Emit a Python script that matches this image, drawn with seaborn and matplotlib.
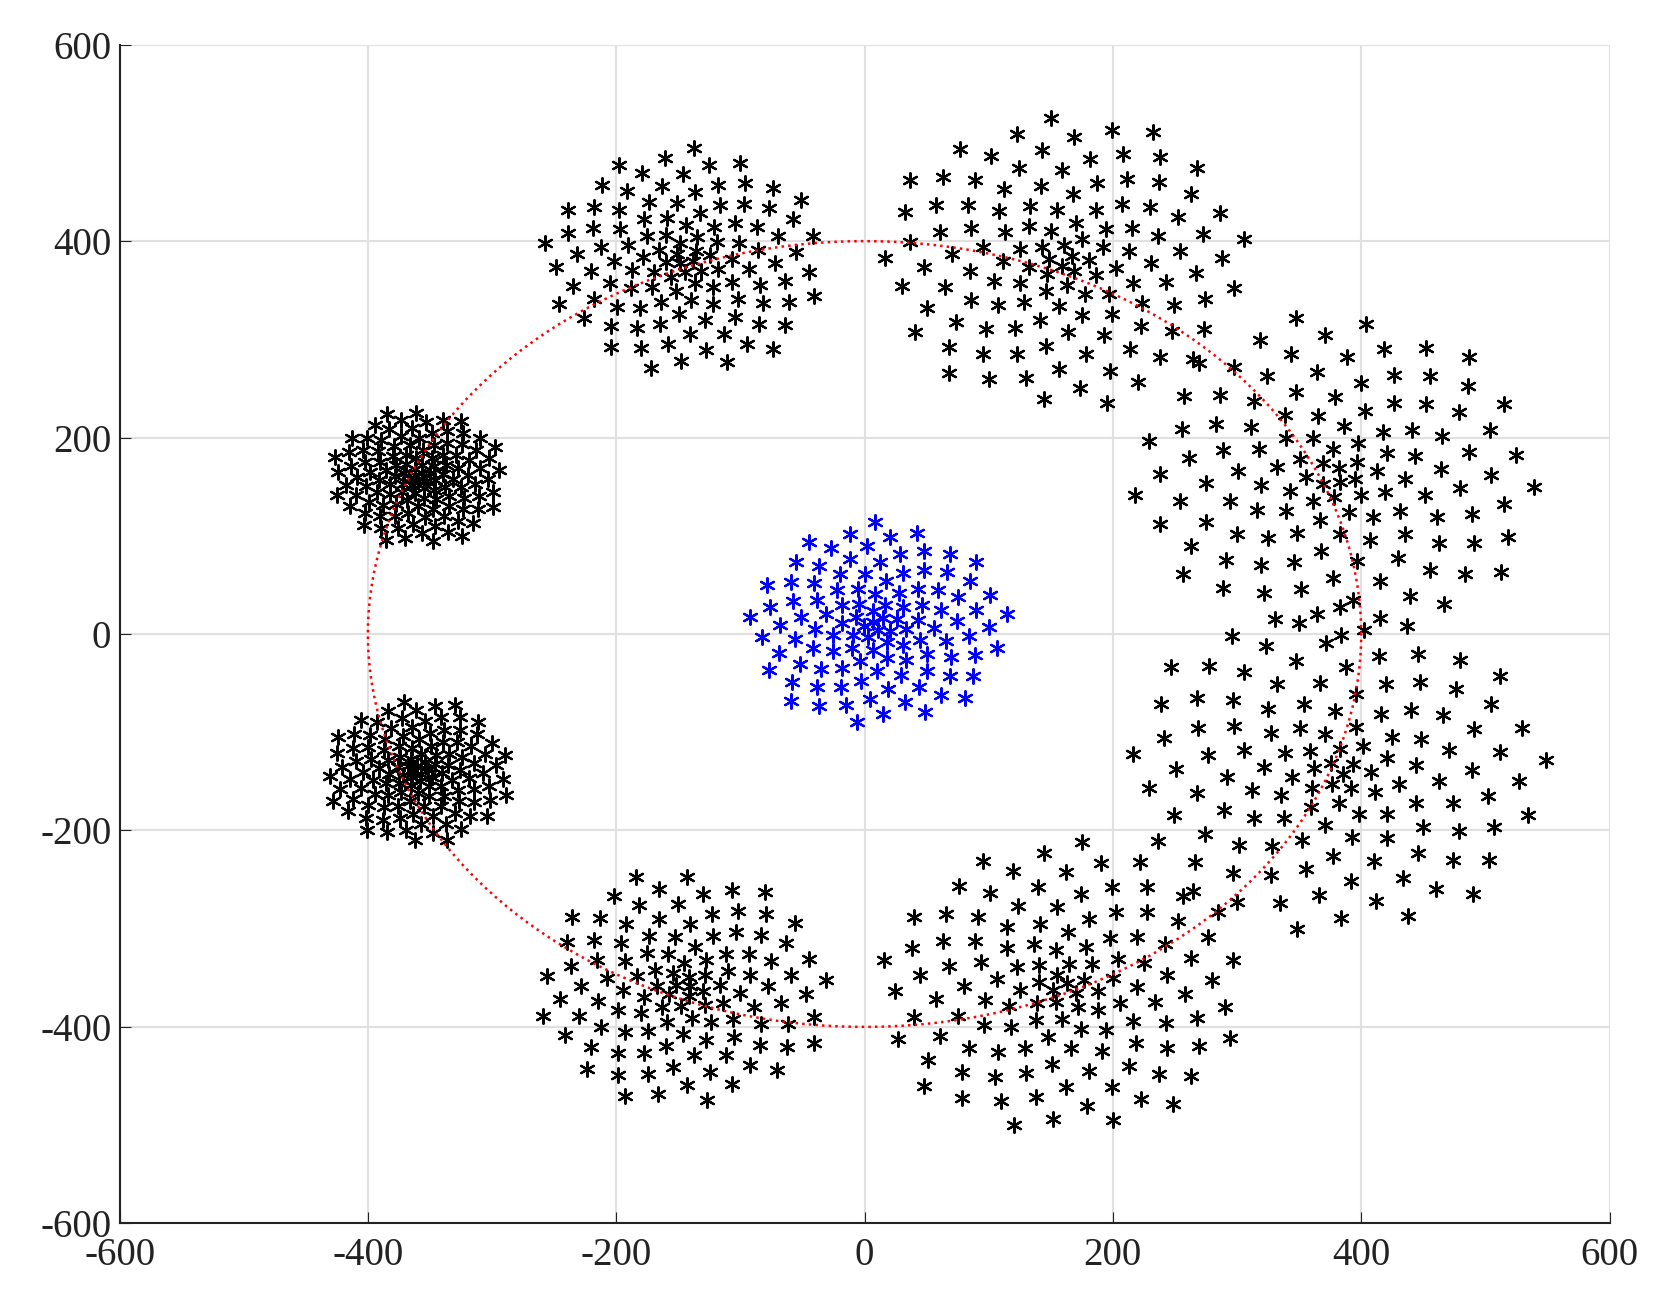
import numpy as np
import matplotlib.pyplot as plt
import seaborn as sns
import pandas as pd

# galaxy centres and outer radii
centerX = [-360, -360, -145, 160, 380, 380, -145, 160]
centerY = [160, -140, 380, 380, 160, -140, -360, -360]
radii = [70, 75, 115, 150, 165, 170, 120, 150]
pointCounts = [120, 120, 110, 120, 120, 120, 110, 120]
blueCenter = (10, 10)
blueRadius = 105
blueCount = 110
orbitRadius = 400

golden = np.pi * (3 - np.sqrt(5))


def spiralPoints(cx, cy, radius, n, rot=0.0):
    k = np.arange(1, n + 1)
    r = radius * (k / n) ** 0.7
    th = k * golden + rot
    return cx + r * np.cos(th), cy + r * np.sin(th)


rows = []
for i, (cx, cy, rad, n) in enumerate(zip(centerX, centerY, radii, pointCounts)):
    x, y = spiralPoints(cx, cy, rad, n, rot=0.7 * i)
    rows.append(pd.DataFrame({'x': x, 'y': y, 'group': 'black'}))
bx, by = spiralPoints(blueCenter[0], blueCenter[1], blueRadius, blueCount)
rows.append(pd.DataFrame({'x': bx, 'y': by, 'group': 'blue'}))
data = pd.concat(rows)

sns.set_style('whitegrid')
plt.rcParams['font.family'] = ['Liberation Serif', 'DejaVu Serif']
plt.rcParams['axes.unicode_minus'] = False

fig = plt.figure(figsize=(16.61, 13.14), dpi=100)
ax = fig.add_axes([0.072, 0.069, 0.897, 0.897])

t = np.linspace(0, 2 * np.pi, 400)
ax.plot(orbitRadius * np.cos(t), orbitRadius * np.sin(t), ':', color='red', lw=1.8)

for grp, col in [('black', 'black'), ('blue', 'blue')]:
    d = data[data['group'] == grp]
    sns.scatterplot(x=d['x'], y=d['y'], marker=(6, 2, 0), color=col, s=110,
                    linewidth=1.6, edgecolor=col, ax=ax)

ax.set_xlim(-600, 600)
ax.set_ylim(-600, 600)
ax.set_xticks(np.arange(-600, 601, 200))
ax.set_yticks(np.arange(-600, 601, 200))
ax.set_xlabel('')
ax.set_ylabel('')
ax.grid(True, color='#e0e0e0', lw=1.5)
for s in ['top', 'right']:
    ax.spines[s].set_visible(False)
for s in ['left', 'bottom']:
    ax.spines[s].set_color('#222222')
    ax.spines[s].set_linewidth(1.5)
ax.tick_params(labelsize=28, direction='in', length=8, colors='#222222', left=True, bottom=True)
ax.tick_params(axis='x', pad=10)
ax.tick_params(axis='y', pad=6)

fig.savefig('out.png', dpi=100)
